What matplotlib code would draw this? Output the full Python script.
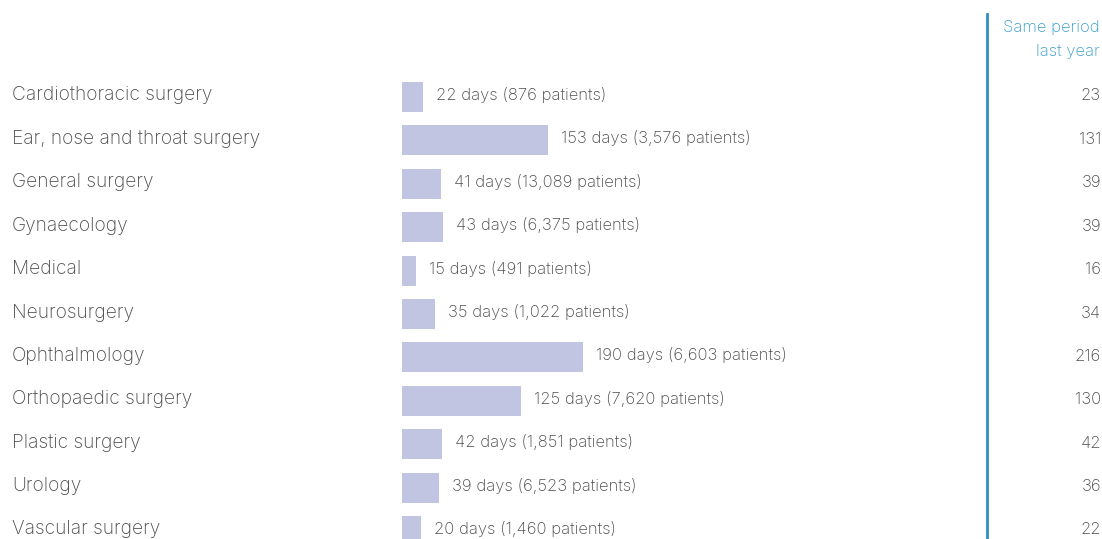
import matplotlib
matplotlib.use("Agg")
import matplotlib.pyplot as plt

categories = [
    "Cardiothoracic surgery",
    "Ear, nose and throat surgery",
    "General surgery",
    "Gynaecology",
    "Medical",
    "Neurosurgery",
    "Ophthalmology",
    "Orthopaedic surgery",
    "Plastic surgery",
    "Urology",
    "Vascular surgery",
]
wait_days = [22, 153, 41, 43, 15, 35, 190, 125, 42, 39, 20]
patients = [876, 3576, 13089, 6375, 491, 1022, 6603, 7620, 1851, 6523, 1460]
last_year = [23, 131, 39, 39, 16, 34, 216, 130, 42, 36, 22]

W, H, DPI = 1102, 539, 100
BAR_COLOR = "#c1c5e1"
TEXT_COLOR = "#4d4d4d"
ACCENT = "#3a9fd0"
LINE_COLOR = "#2b8fc3"

plt.rcParams["font.family"] = ["Inter", "Liberation Sans", "DejaVu Sans"]
WEIGHT = "light"
FS_CAT = 13.8
FS_VAL = 12.0

fig = plt.figure(figsize=(W / DPI, H / DPI), dpi=DPI)
ax = fig.add_axes([0, 0, 1, 1])

# pixel layout: bars start at x=402, ~0.955 px per day; rows 43.4 px apart
px_per_day = 0.955
x0 = 402
row0 = 97
step = 43.4
ax.set_xlim(-x0 / px_per_day, (W - x0) / px_per_day)
ax.set_ylim((H - row0) / step, -row0 / step)
ax.axis("off")

rows = list(range(len(categories)))
ax.barh(rows, wait_days, height=30 / step, color=BAR_COLOR, edgecolor="none")

px = 1 / px_per_day  # one pixel in data x units
py = 1 / step        # one pixel in data y units
for i, (cat, d, p, ly) in enumerate(zip(categories, wait_days, patients, last_year)):
    ax.text(-x0 * px + 12 * px, i + 3.5 * py, cat, ha="left", va="baseline",
            fontsize=FS_CAT, color=TEXT_COLOR, fontweight=WEIGHT)
    ax.text(d + 13 * px, i + 3 * py, f"{d} days ({p:,} patients)", ha="left",
            va="baseline", fontsize=FS_VAL, color=TEXT_COLOR, fontweight=WEIGHT)
    ax.text((W - x0 - 1) * px, i + 3.5 * py, f"{ly}", ha="right", va="baseline",
            fontsize=FS_VAL, color=TEXT_COLOR, fontweight=WEIGHT)

# comparison column divider and header
fig.add_artist(plt.Line2D([987 / W, 987 / W], [0, 1 - 14 / H],
                          color=LINE_COLOR, linewidth=2))
fig.text(1100 / W, 1 - 32 / H, "Same period", ha="right", va="baseline",
         fontsize=FS_VAL, color=ACCENT, fontweight=WEIGHT)
fig.text(1100 / W, 1 - 56 / H, "last year", ha="right", va="baseline",
         fontsize=FS_VAL, color=ACCENT, fontweight=WEIGHT)

fig.savefig("out.png", dpi=DPI)
